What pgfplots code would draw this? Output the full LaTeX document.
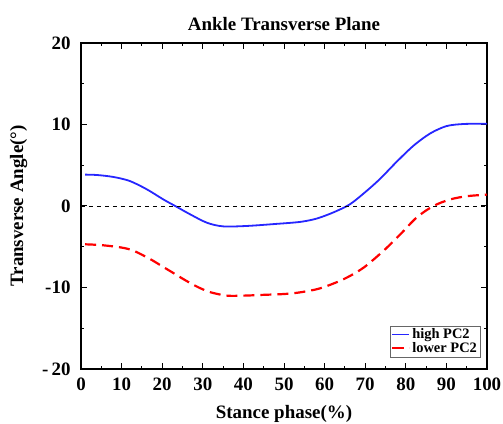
\documentclass[border=0pt]{standalone}
\usepackage{fontspec}
\setmainfont{Liberation Serif}
\usepackage{pgfplots}
\pgfplotsset{compat=1.18}
\begin{document}
\begin{tikzpicture}
\begin{axis}[
    scale only axis,
    width=406bp, height=326bp,
    xmin=0, xmax=100, ymin=-20, ymax=20,
    xtick={0,10,...,100},
    ytick={-20,-10,0,10,20},
    yticklabels={{-\,20},{-10},0,10,20},
    minor x tick num=1, minor y tick num=1,
    tick align=inside,
    major tick length=6bp, minor tick length=3bp,
    axis line style={line width=1.2bp},
    every tick/.style={black, line width=1bp},
    /pgf/number format/assume math mode=true,
    tick label style={font=\bfseries\fontsize{19}{19}\selectfont},
    xticklabel style={yshift=-5bp},
    yticklabel style={xshift=-7bp},
    label style={font=\bfseries\fontsize{19}{19}\selectfont},
    title style={font=\bfseries\fontsize{19}{19}\selectfont, yshift=3bp},
    title={Ankle Transverse Plane},
    xlabel={Stance phase(\%)},
    ylabel={Transverse Angle(°)},
    xlabel style={yshift=-8bp},
    ylabel style={yshift=8bp},
    legend style={at={(0.983,0.037)}, anchor=south east, draw=black!60,
        font=\bfseries\fontsize{14.5}{14.5}\selectfont, inner sep=1bp,
        row sep=-2bp, legend cell align=left},
]
\addplot[blue!85!white, line width=1.8bp, smooth] coordinates {
    (1,3.85) (4,3.8) (8,3.56) (12,3.07) (16.2,2.05) (20.3,0.8) (23.2,0)
    (26.8,-1.0) (31,-2.05) (35,-2.5) (40.8,-2.45) (48,-2.2)
    (54,-1.95) (58,-1.55) (62.1,-0.8) (66.2,0.2) (70,1.7)
    (73.6,3.3) (77.7,5.4) (81.9,7.4) (86,8.9) (90,9.8) (94.2,10.06) (100,10.1)
};
\addlegendentry{high PC2}
\addplot[red, line width=2.2bp, dash pattern=on 11bp off 6bp, smooth] coordinates {
    (1,-4.7) (5,-4.8) (10,-5.1) (13,-5.5) (17,-6.5) (20,-7.4) (23,-8.3)
    (26,-9.2) (29,-10) (32,-10.6) (36,-11.0) (40,-11.0) (45,-10.9)
    (50,-10.8) (53.9,-10.6) (58.9,-10.1) (64.6,-9.0) (69.5,-7.6)
    (74.5,-5.5) (78.6,-3.5) (82.7,-1.4) (86.8,0) (90.9,0.8)
    (95,1.2) (100,1.4)
};
\addlegendentry{lower PC2}
\addplot[black, line width=0.8bp, dash pattern=on 4bp off 4bp, forget plot] coordinates {(0,0) (100,0)};
\end{axis}
\pgfresetboundingbox
\path (current axis.south west) ++(-81bp,-55bp) rectangle ++(503bp,424bp);
\end{tikzpicture}
\end{document}
